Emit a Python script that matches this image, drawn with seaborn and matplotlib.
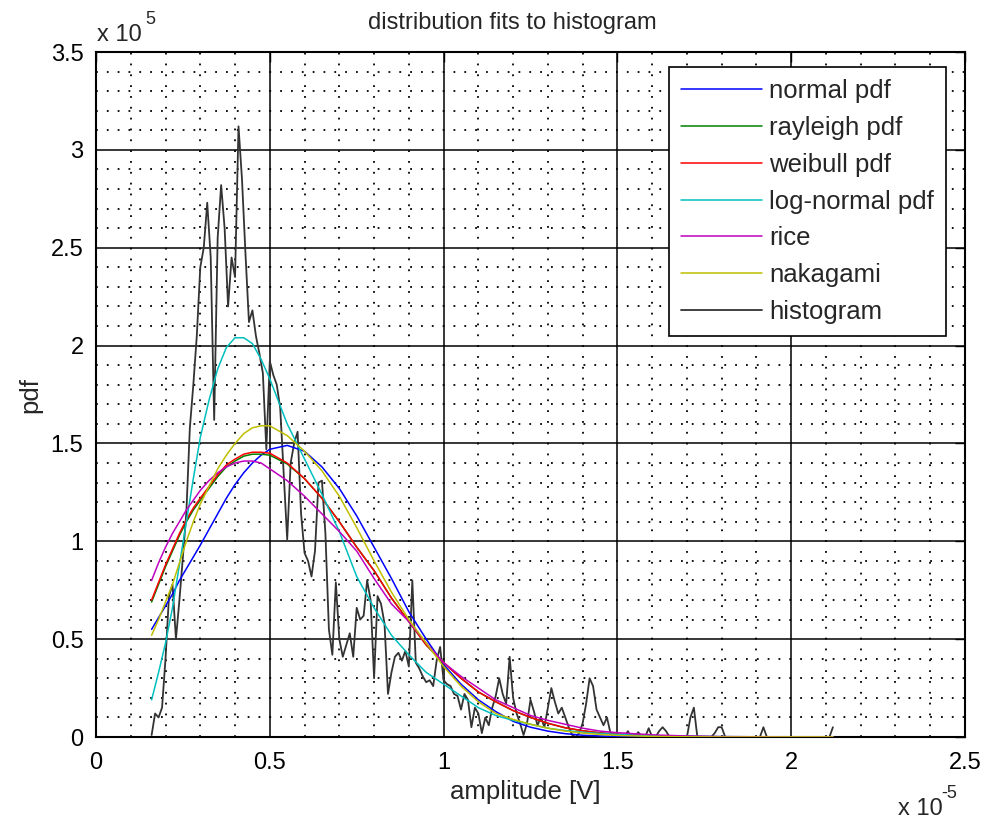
import numpy as np
import pandas as pd
import matplotlib
matplotlib.use("Agg")
import matplotlib.pyplot as plt
import seaborn as sns
from matplotlib.ticker import MultipleLocator, FuncFormatter

# ---------------------------------------------------------------------------
# Data (amplitude in units of 1e-5 V, density in units of 1e5 1/V)
# ---------------------------------------------------------------------------
fit_amp = [0.16, 0.18, 0.20, 0.22, 0.24, 0.26, 0.28, 0.30, 0.325, 0.35,
           0.375, 0.40, 0.425, 0.45, 0.475, 0.50, 0.55, 0.60, 0.65, 0.70,
           0.75, 0.80, 0.85, 0.90, 0.95, 1.00, 1.05, 1.10, 1.15, 1.20,
           1.25, 1.30, 1.35, 1.40, 1.45, 1.50, 1.60, 1.70, 1.80, 1.90,
           2.00, 2.12]

normal_pdf = [0.55, 0.61, 0.67, 0.73, 0.80, 0.86, 0.92, 0.98, 1.06, 1.14,
              1.22, 1.29, 1.35, 1.40, 1.44, 1.47, 1.49, 1.46, 1.38, 1.27,
              1.13, 0.97, 0.81, 0.64, 0.50, 0.37, 0.27, 0.19, 0.13, 0.08,
              0.05, 0.03, 0.017, 0.009, 0.005, 0.002, 0.001, 0.0, 0.0, 0.0,
              0.0, 0.0]

rayleigh_pdf = [0.69, 0.78, 0.87, 0.95, 1.03, 1.10, 1.16, 1.21, 1.27, 1.33,
                1.38, 1.41, 1.435, 1.445, 1.445, 1.44, 1.395, 1.32, 1.22, 1.10,
                0.97, 0.85, 0.71, 0.59, 0.47, 0.38, 0.30, 0.23, 0.18, 0.135,
                0.10, 0.07, 0.047, 0.032, 0.021, 0.014, 0.006, 0.003, 0.001, 0.0005,
                0.0, 0.0]

weibull_pdf = [0.70, 0.79, 0.88, 0.96, 1.04, 1.11, 1.17, 1.22, 1.28, 1.34,
               1.39, 1.42, 1.445, 1.455, 1.455, 1.45, 1.40, 1.32, 1.22, 1.10,
               0.97, 0.85, 0.71, 0.59, 0.47, 0.38, 0.30, 0.23, 0.18, 0.135,
               0.10, 0.07, 0.047, 0.032, 0.021, 0.014, 0.006, 0.003, 0.001, 0.0005,
               0.0, 0.0]

lognormal_pdf = [0.19, 0.33, 0.48, 0.66, 0.88, 1.10, 1.32, 1.53, 1.72, 1.88,
                 1.99, 2.04, 2.04, 2.01, 1.93, 1.83, 1.60, 1.42, 1.24, 1.05,
                 0.82, 0.66, 0.52, 0.42, 0.33, 0.27, 0.21, 0.15, 0.11, 0.085,
                 0.065, 0.045, 0.033, 0.024, 0.018, 0.013, 0.007, 0.004, 0.002, 0.001,
                 0.0005, 0.0]

rice_pdf = [0.80, 0.89, 0.97, 1.04, 1.10, 1.16, 1.21, 1.26, 1.31, 1.35,
            1.38, 1.40, 1.41, 1.41, 1.40, 1.37, 1.31, 1.23, 1.14, 1.05,
            0.95, 0.81, 0.68, 0.59, 0.48, 0.38, 0.31, 0.25, 0.19, 0.15,
            0.11, 0.085, 0.065, 0.045, 0.03, 0.022, 0.011, 0.005, 0.002, 0.001,
            0.0, 0.0]

nakagami_pdf = [0.52, 0.60, 0.69, 0.78, 0.89, 1.00, 1.10, 1.19, 1.28, 1.37,
                1.44, 1.50, 1.55, 1.58, 1.59, 1.59, 1.54, 1.46, 1.36, 1.23,
                1.07, 0.90, 0.74, 0.60, 0.48, 0.36, 0.26, 0.18, 0.12, 0.09,
                0.065, 0.045, 0.03, 0.02, 0.013, 0.008, 0.003, 0.001, 0.0, 0.0,
                0.0, 0.0]

# histogram bin centres 0.16 ... 2.12 (step 0.01)
hist_amp = np.round(np.arange(0.16, 2.1205, 0.01), 2)
hist_pdf = [
    0.01, 0.12, 0.10, 0.15, 0.40, 0.72, 0.78, 0.50, 0.70, 0.92,
    1.15, 1.58, 1.80, 2.05, 2.40, 2.50, 2.73, 2.45, 1.62, 2.55,
    2.82, 2.60, 2.20, 2.45, 2.35, 3.12, 2.85, 2.47, 2.12, 2.18,
    2.05, 1.96, 1.86, 1.47, 1.92, 1.85, 1.80, 1.68, 1.35, 1.01,
    1.40, 1.50, 1.56, 1.14, 0.94, 0.90, 0.82, 0.95, 1.30, 1.31,
    1.04, 0.55, 0.42, 0.79, 0.50, 0.41, 0.47, 0.53, 0.41, 0.66,
    0.60, 0.62, 0.80, 0.70, 0.30, 0.72, 0.68, 0.58, 0.22, 0.33,
    0.41, 0.43, 0.39, 0.44, 0.36, 0.80, 0.38, 0.35, 0.31, 0.28,
    0.29, 0.26, 0.39, 0.46, 0.29, 0.27, 0.26, 0.22, 0.21, 0.14,
    0.22, 0.19, 0.05, 0.15, 0.12, 0.02, 0.10, 0.06, 0.15, 0.21,
    0.30, 0.22, 0.17, 0.41, 0.20, 0.12, 0.07, 0.01, 0.07, 0.19,
    0.13, 0.06, 0.10, 0.05, 0.15, 0.25, 0.18, 0.12, 0.15, 0.10,
    0.05, 0.01, 0.00, 0.02, 0.07, 0.17, 0.30, 0.26, 0.14, 0.10,
    0.06, 0.10, 0.02, 0.00, 0.00, 0.00, 0.00, 0.03, 0.00, 0.00,
    0.025, 0.00, 0.00, 0.045, 0.00, 0.00, 0.03, 0.05, 0.03, 0.00,
    0.00, 0.00, 0.00, 0.00, 0.00, 0.10, 0.15, 0.00, 0.00, 0.00,
    0.00, 0.00, 0.02, 0.05, 0.05, 0.00, 0.00, 0.00, 0.00, 0.00,
    0.00, 0.00, 0.00, 0.00, 0.00, 0.00, 0.05, 0.00, 0.00, 0.00,
    0.00, 0.00, 0.00, 0.00, 0.00, 0.00, 0.00, 0.00, 0.00, 0.00,
    0.00, 0.00, 0.00, 0.00, 0.00, 0.00, 0.05,
]

fits = [
    ("normal pdf", normal_pdf, (0.0, 0.0, 1.0)),
    ("rayleigh pdf", rayleigh_pdf, (0.0, 0.5, 0.0)),
    ("weibull pdf", weibull_pdf, (1.0, 0.0, 0.0)),
    ("log-normal pdf", lognormal_pdf, (0.0, 0.75, 0.75)),
    ("rice", rice_pdf, (0.75, 0.0, 0.75)),
    ("nakagami", nakagami_pdf, (0.75, 0.75, 0.0)),
]

# ---------------------------------------------------------------------------
# Style
# ---------------------------------------------------------------------------
sns.set_style("white")
plt.rcParams["font.family"] = ["Liberation Sans", "DejaVu Sans"]
FS = 17
FS_LEG = 18.5

W, H = 985, 823
fig = plt.figure(figsize=(W / 100, H / 100), dpi=100)
ax = fig.add_axes([96 / W, 1 - 737 / H, (965 - 96) / W, (737 - 52) / H])

hist_df = pd.DataFrame({"amp": hist_amp, "pdf": hist_pdf})
sns.lineplot(data=hist_df, x="amp", y="pdf", ax=ax, color="#333333",
             lw=1.3, estimator=None, sort=False, label="histogram", zorder=2)

for name, vals, col in fits:
    df = pd.DataFrame({"amp": fit_amp, "pdf": vals})
    sns.lineplot(data=df, x="amp", y="pdf", ax=ax, color=col, lw=1.1,
                 estimator=None, sort=False, label=name, zorder=3)

ax.set_xlim(0, 2.5)
ax.set_ylim(0, 3.5)
ax.set_xlabel("")
ax.set_ylabel("")

ax.xaxis.set_major_locator(MultipleLocator(0.5))
ax.xaxis.set_minor_locator(MultipleLocator(0.1))
ax.yaxis.set_major_locator(MultipleLocator(0.5))
ax.yaxis.set_minor_locator(MultipleLocator(0.1))
fmt = FuncFormatter(lambda v, p: f"{v:g}")
ax.xaxis.set_major_formatter(fmt)
ax.yaxis.set_major_formatter(fmt)

ax.set_axisbelow(True)
ax.grid(which="major", color="black", lw=1.1, ls="-")
ax.grid(which="minor", color="black", lw=1.3, ls=(0, (1, 5)))

ax.tick_params(which="major", direction="in", top=True, right=True,
               length=7, width=1, labelsize=FS, colors="black")
ax.tick_params(axis="x", which="major", pad=11)
ax.tick_params(axis="y", which="major", pad=9)
ax.tick_params(which="minor", length=0)
for s in ax.spines.values():
    s.set_color("black")
    s.set_linewidth(1.5)

# labels and exponent markers
fig.text(512 / W, 1 - 23 / H, "distribution fits to histogram",
         ha="center", va="center", fontsize=FS)
fig.text(525 / W, 1 - 792 / H, "amplitude [V]", ha="center", va="center",
         fontsize=FS_LEG)
fig.text(30 / W, 1 - 395 / H, "pdf", ha="center", va="center",
         rotation=90, fontsize=FS_LEG)
fig.text(97 / W, 1 - 41 / H, "x 10", ha="left", va="baseline", fontsize=FS)
fig.text(145 / W, 1 - 24 / H, "5", ha="left", va="baseline", fontsize=FS - 4)
fig.text(898 / W, 1 - 815 / H, "x 10", ha="left", va="baseline", fontsize=FS)
fig.text(941 / W, 1 - 798 / H, "-5", ha="left", va="baseline", fontsize=FS - 4)

# legend in plotting order of the fits, histogram last
handles, labels = ax.get_legend_handles_labels()
order = [labels.index(n) for n, _, _ in fits] + [labels.index("histogram")]
leg = ax.legend([handles[i] for i in order], [labels[i] for i in order],
                loc="upper right", bbox_to_anchor=(946 / W, 1 - 67 / H),
                bbox_transform=fig.transFigure, borderaxespad=0,
                fontsize=FS_LEG, frameon=True, fancybox=False, framealpha=1,
                edgecolor="black", handlelength=3.15, handletextpad=0.28,
                labelspacing=0.5, borderpad=0.47)
leg.get_frame().set_linewidth(1.2)

fig.savefig("out.png", dpi=100, facecolor="white")
